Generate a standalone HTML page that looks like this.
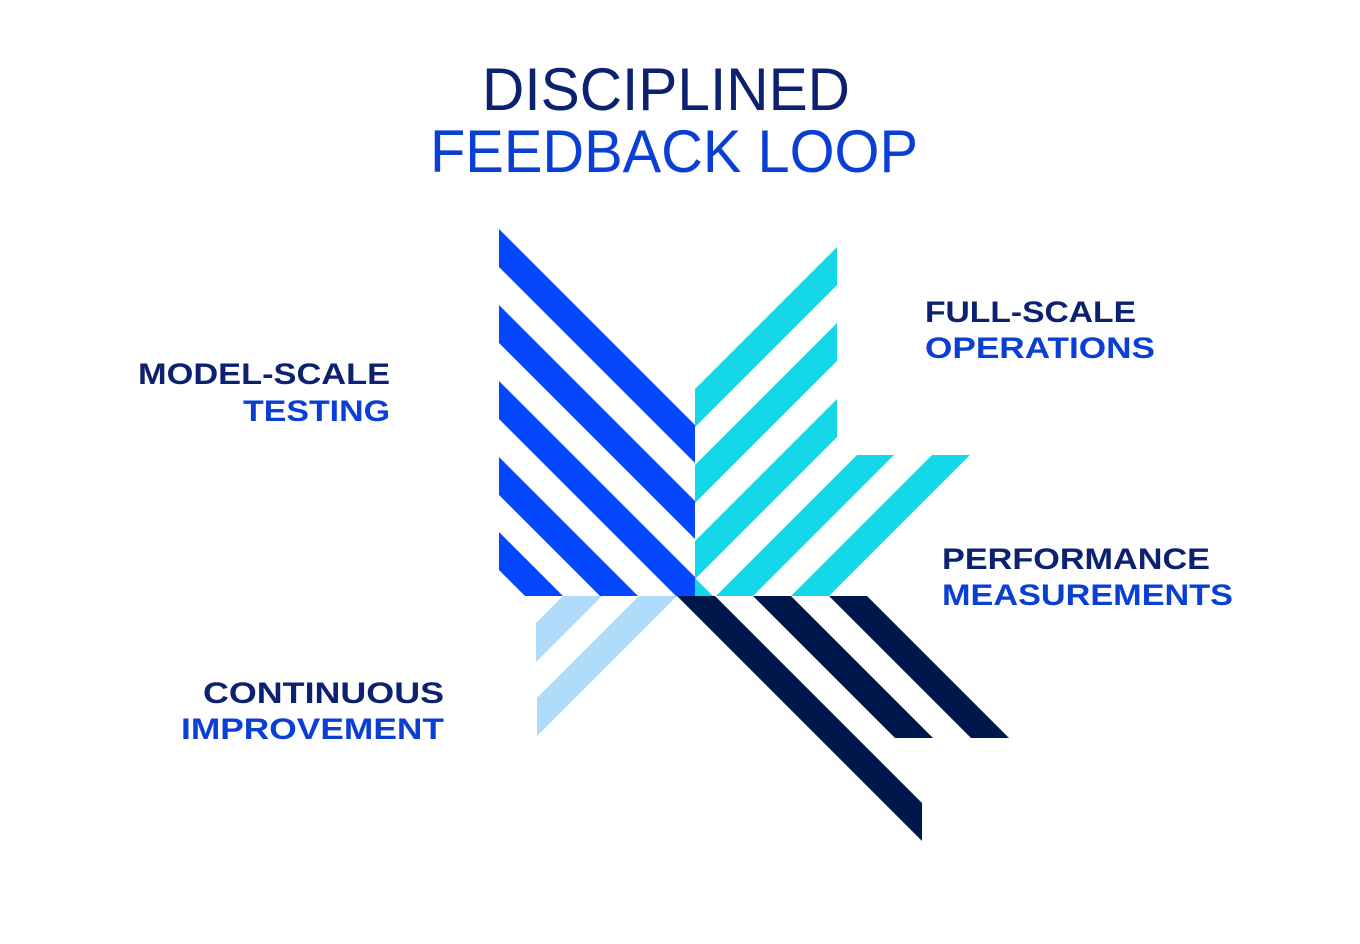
<!DOCTYPE html>
<html><head><meta charset="utf-8"><style>html,body{margin:0;padding:0;background:#fff}svg{display:block}</style></head>
<body>
<svg width="1360" height="944" viewBox="0 0 1360 944" xmlns="http://www.w3.org/2000/svg">
<rect width="1360" height="944" fill="#fff"/>
<g font-family="Liberation Sans, sans-serif">
<text x="482" y="110" font-size="60" fill="#0c2170" textLength="368" lengthAdjust="spacingAndGlyphs">DISCIPLINED</text>
<text x="430" y="172" font-size="60" fill="#0a3fd6" textLength="488" lengthAdjust="spacingAndGlyphs">FEEDBACK LOOP</text>
<g font-weight="bold" font-size="30">
<text x="138" y="384" fill="#0c2170" textLength="252" lengthAdjust="spacingAndGlyphs">MODEL-SCALE</text>
<text x="243" y="421" fill="#0a3fd6" textLength="147" lengthAdjust="spacingAndGlyphs">TESTING</text>
<text x="925" y="322" fill="#0c2170" textLength="211" lengthAdjust="spacingAndGlyphs">FULL-SCALE</text>
<text x="925" y="358" fill="#0a3fd6" textLength="230" lengthAdjust="spacingAndGlyphs">OPERATIONS</text>
<text x="942" y="569" fill="#0c2170" textLength="268" lengthAdjust="spacingAndGlyphs">PERFORMANCE</text>
<text x="942" y="605" fill="#0a3fd6" textLength="291" lengthAdjust="spacingAndGlyphs">MEASUREMENTS</text>
<text x="203" y="703" fill="#0c2170" textLength="241" lengthAdjust="spacingAndGlyphs">CONTINUOUS</text>
<text x="181" y="739" fill="#0a3fd6" textLength="263" lengthAdjust="spacingAndGlyphs">IMPROVEMENT</text>
</g>
</g>
<g fill="#0447ff">
<polygon points="499,229 695,425 695,463 499,267"/>
<polygon points="499,305 695,501 695,539 499,343"/>
<polygon points="499,381 695,577 695,596 676,596 499,419"/>
<polygon points="499,457 638,596 600,596 499,495"/>
<polygon points="499,532 563,596 525,596 499,570"/>
</g>
<g fill="#14d8e8">
<polygon points="695,389 837,247 837,285 695,427"/>
<polygon points="695,465 837,323 837,361 695,503"/>
<polygon points="695,541 837,399 837,437 695,579"/>
<polygon points="695,578 713,596 695,596"/>
<polygon points="857,455 894,455 753,596 716,596"/>
<polygon points="932,455 970,455 829,596 791,596"/>
</g>
<g fill="#b0dafa">
<polygon points="563,596 602,596 536,662 536,623"/>
<polygon points="639,596 677,596 537,736 537,698"/>
</g>
<g fill="#00174c">
<polygon points="677,596 715,596 922,803 922,841"/>
<polygon points="753,596 791,596 933,738 895,738"/>
<polygon points="829,596 867,596 1009,738 971,738"/>
</g>
</svg>
</body></html>
